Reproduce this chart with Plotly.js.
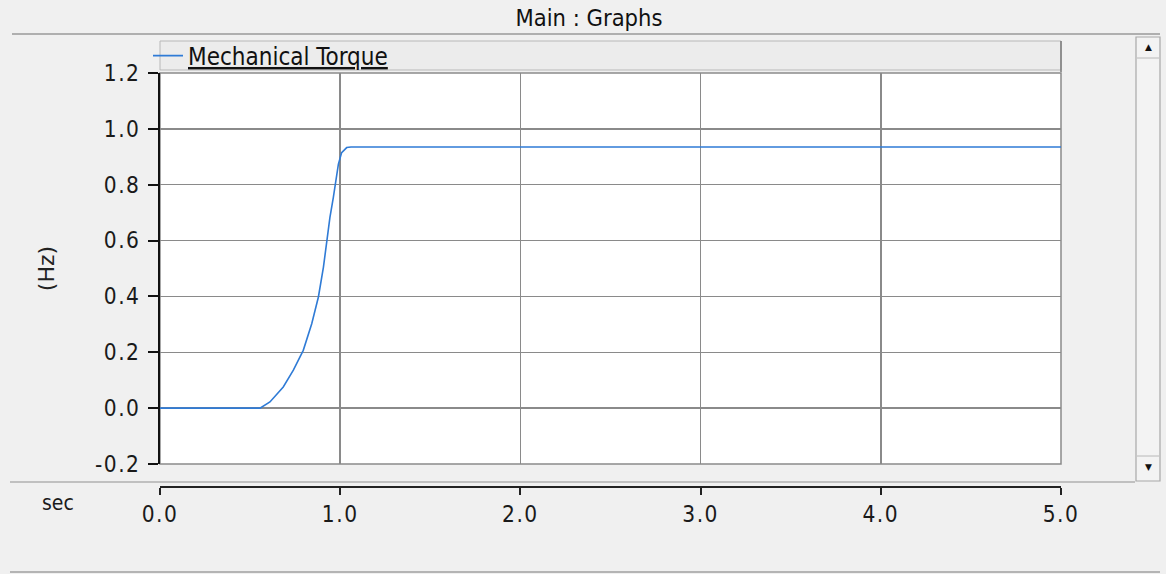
<!DOCTYPE html>
<html>
<head>
<meta charset="utf-8">
<script src="https://cdn.plot.ly/plotly-3.0.1.min.js"></script>
<style>
  html, body { margin: 0; padding: 0; background: #f0f0f0; }
  #chart { width: 1166px; height: 574px; }
  #chart .xtick text, #chart .ytick text { letter-spacing: 1.5px; }
</style>
</head>
<body>
<div id="chart"></div>
<script>
// ---- data ----
const seriesName = "Mechanical Torque";
const timeSec = [0, 0.555, 0.61, 0.684, 0.74, 0.795, 0.842, 0.879, 0.907, 0.925, 0.943, 0.962, 0.977, 0.99, 1.008, 1.036, 1.06, 5.0];
const torque  = [0, 0,     0.022, 0.076, 0.136, 0.207, 0.302, 0.398, 0.505, 0.6,  0.683, 0.755, 0.814, 0.874, 0.915, 0.933, 0.935, 0.935];
const xTickVals = [0, 1, 2, 3, 4, 5];
const xTickText = ["0.0", "1.0", "2.0", "3.0", "4.0", "5.0"];
const yTickVals = [-0.2, 0, 0.2, 0.4, 0.6, 0.8, 1.0, 1.2];
const yTickText = ["-0.2", "0.0", "0.2", "0.4", "0.6", "0.8", "1.0", "1.2"];
const chartTitle = "Main : Graphs";
const yTitle = "(Hz)";
const xUnit = "sec";

const FONT = "'DejaVu Sans Condensed', 'Liberation Sans', Arial, sans-serif";
const W = 1166, H = 574;
const mL = 160, mR = 105, mT = 73, mB = 87;
const plotW = W - mL - mR, paperH = H - mT - mB;
// helpers converting window pixels to paper fractions (for chrome only)
const px = v => (v - mL) / plotW;
const py = v => (H - mB - v) / paperH;

const trace = {
  x: timeSec, y: torque, type: "scatter", mode: "lines",
  name: "<u>" + seriesName + "</u>",
  line: { color: "#2f7bd6", width: 1.6 }
};

const layout = {
  width: W, height: H,
  margin: { l: mL, r: mR, t: mT, b: mB },
  paper_bgcolor: "#f0f0f0",
  plot_bgcolor: "#ffffff",
  font: { family: FONT, size: 22, color: "#1a1a1a" },
  title: {
    text: chartTitle, xref: "container", yref: "container",
    x: 589 / W, y: 1 - 18 / H, xanchor: "center", yanchor: "middle",
    font: { family: FONT, size: 23.5, color: "#111" }
  },
  showlegend: true,
  legend: {
    x: px(148), y: py(56), xanchor: "left", yanchor: "middle",
    bgcolor: "rgba(0,0,0,0)", borderwidth: 0,
    font: { family: FONT, size: 24, color: "#111" },
    itemwidth: 30
  },
  xaxis: {
    range: [0, 5], anchor: "free", position: 0,
    tickmode: "array", tickvals: xTickVals, ticktext: xTickText,
    ticks: "outside", ticklen: 7, tickwidth: 2, tickcolor: "#222",
    showline: true, linecolor: "#222", linewidth: 2,
    showgrid: true, gridcolor: "#8a8a8a", gridwidth: 1.5,
    zeroline: false, fixedrange: true,
    tickfont: { family: FONT, size: 22.5, color: "#1a1a1a" }
  },
  yaxis: {
    range: [-0.2, 1.2], domain: [(H - mB - 464) / paperH, 1],
    tickmode: "array", tickvals: yTickVals, ticktext: yTickText,
    ticks: "outside", ticklen: 10, tickwidth: 2, tickcolor: "#111",
    showline: true, linecolor: "#111", linewidth: 2,
    showgrid: true, gridcolor: "#8a8a8a", gridwidth: 1.5,
    zeroline: false, fixedrange: true, ticklabelstandoff: 3,
    tickfont: { family: FONT, size: 22.5, color: "#1a1a1a" },
    title: { text: yTitle, standoff: 40, font: { family: "'DejaVu Sans', sans-serif", size: 22, color: "#222" } }
  },
  shapes: [
    // plot frame
    { type: "rect", xref: "x domain", yref: "y domain", x0: 0, x1: 1, y0: 0, y1: 1,
      line: { color: "#8a8a8a", width: 1.5 }, layer: "below" },
    // title separator line
    { type: "line", xref: "paper", yref: "paper", x0: px(12), x1: px(1160), y0: py(34), y1: py(34),
      line: { color: "#9a9a9a", width: 1.5 } },
    // legend bar
    { type: "rect", xref: "paper", yref: "paper", x0: 0, x1: 1, y0: py(70), y1: py(41),
      fillcolor: "#ececec", line: { color: "#b8b8b8", width: 1 }, layer: "below" },
    { type: "line", xref: "paper", yref: "paper", x0: 1, x1: 1, y0: py(72), y1: py(41),
      line: { color: "#7a7a7a", width: 1.5 } },
    // separator between plot and time axis
    { type: "line", xref: "paper", yref: "paper", x0: px(10), x1: px(1135), y0: py(482), y1: py(482),
      line: { color: "#b0b0b0", width: 1.5 } },
    // bottom window line
    { type: "line", xref: "paper", yref: "paper", x0: px(10), x1: px(1160), y0: py(572), y1: py(572),
      line: { color: "#a0a0a0", width: 1.5 } },
    // scrollbar
    { type: "rect", xref: "paper", yref: "paper", x0: px(1136), x1: px(1160), y0: py(481), y1: py(37),
      fillcolor: "#f3f3f3", line: { color: "#a8a8a8", width: 1.2 } },
    { type: "line", xref: "paper", yref: "paper", x0: px(1137), x1: px(1159), y0: py(58), y1: py(58),
      line: { color: "#b8b8b8", width: 1 } },
    { type: "line", xref: "paper", yref: "paper", x0: px(1137), x1: px(1159), y0: py(456), y1: py(456),
      line: { color: "#b8b8b8", width: 1 } }
  ],
  annotations: [
    { text: xUnit, xref: "paper", yref: "paper", x: px(58), y: py(503),
      xanchor: "center", yanchor: "middle", showarrow: false,
      font: { family: FONT, size: 21, color: "#1a1a1a" } },
    { text: "▲", xref: "paper", yref: "paper", x: px(1148), y: py(47),
      xanchor: "center", yanchor: "middle", showarrow: false,
      font: { family: "DejaVu Sans", size: 9, color: "#111" } },
    { text: "▼", xref: "paper", yref: "paper", x: px(1148), y: py(467),
      xanchor: "center", yanchor: "middle", showarrow: false,
      font: { family: "DejaVu Sans", size: 9, color: "#111" } }
  ]
};

Plotly.newPlot("chart", [trace], layout, { displayModeBar: false, staticPlot: true });
</script>
</body>
</html>
